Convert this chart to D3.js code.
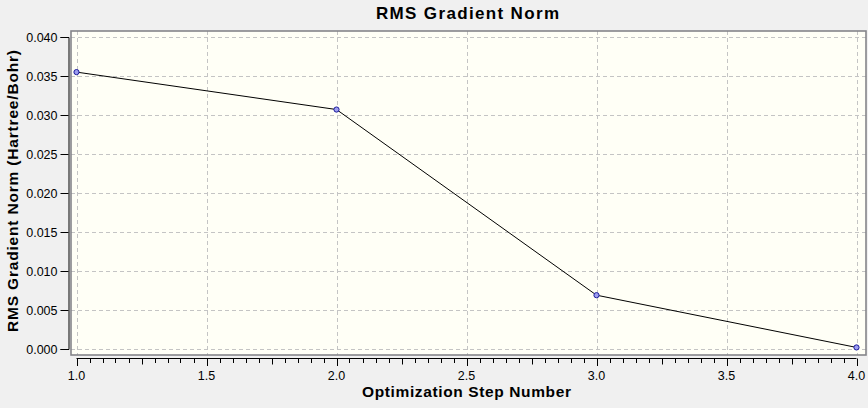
<!DOCTYPE html>
<html>
<head>
<meta charset="utf-8">
<script src="https://cdn.jsdelivr.net/npm/d3@7"></script>
<style>
  html, body { margin: 0; padding: 0; background: #f0f0f0; }
  svg { display: block; font-family: "Liberation Sans", Arial, sans-serif; }
</style>
</head>
<body>
<svg id="chart" width="868" height="408"></svg>
<script>
// data
const steps = [1, 2, 3, 4];
const rmsGrad = [0.0355, 0.0307, 0.0069, 0.0002];
const xTicks = [1.0, 1.5, 2.0, 2.5, 3.0, 3.5, 4.0];
const yTicks = [0.000, 0.005, 0.010, 0.015, 0.020, 0.025, 0.030, 0.035, 0.040];

const svg = d3.select('#chart');

// frame of the plot area
const frame = { left: 71, top: 31, right: 866, bottom: 355 };

const x = d3.scaleLinear().domain([1, 4]).range([76.5, 856.5]);
const y = d3.scaleLinear().domain([0, 0.04]).range([349, 37]);

// plot background
svg.append('rect')
    .attr('x', frame.left).attr('y', frame.top)
    .attr('width', frame.right - frame.left)
    .attr('height', frame.bottom - frame.top)
    .attr('fill', '#fffff6');

// grid
const grid = svg.append('g').attr('stroke', '#c4c4c4').attr('stroke-dasharray', '4,3');
grid.selectAll('.vgrid').data(xTicks).enter()
    .append('line')
    .attr('x1', d => Math.round(x(d)) + 0.5).attr('x2', d => Math.round(x(d)) + 0.5)
    .attr('y1', frame.top).attr('y2', frame.bottom);
grid.selectAll('.hgrid').data(yTicks).enter()
    .append('line')
    .attr('x1', frame.left).attr('x2', frame.right)
    .attr('y1', d => Math.round(y(d)) + 0.5).attr('y2', d => Math.round(y(d)) + 0.5);

// frame border
svg.append('rect')
    .attr('x', frame.left).attr('y', frame.top)
    .attr('width', frame.right - frame.left)
    .attr('height', frame.bottom - frame.top)
    .attr('fill', 'none')
    .attr('stroke', '#85858a')
    .attr('stroke-width', 1.6);

// y axis (detached, left of frame)
const yAxis = d3.axisLeft(y).tickValues(yTicks).tickFormat(d3.format('.3f')).tickSize(8).tickPadding(3);
const gy = svg.append('g').attr('transform', 'translate(68.5,0)').call(yAxis);

// x axis below frame: minor ticks every 0.05, mid every 0.25, major every 0.5
const minorTicks = d3.range(0, 61).map(i => 1 + i * 0.05);
const gx = svg.append('g').attr('transform', 'translate(0,358.5)');
gx.append('line')
    .attr('x1', x(1)).attr('x2', x(4))
    .attr('stroke', '#000');
gx.selectAll('.tick-minor').data(minorTicks).enter()
    .append('line')
    .attr('x1', d => Math.round(x(d)) + 0.5).attr('x2', d => Math.round(x(d)) + 0.5)
    .attr('y1', 0)
    .attr('y2', (d, i) => i % 10 === 0 ? 7.5 : (i % 5 === 0 ? 6 : 4.5))
    .attr('stroke', '#000');
gx.selectAll('.tick-label').data(xTicks).enter()
    .append('text')
    .attr('x', d => x(d))
    .attr('y', 21)
    .attr('text-anchor', 'middle')
    .attr('font-size', 12.5)
    .attr('fill', '#000')
    .text(d3.format('.1f'));

gy.selectAll('text').attr('font-size', 12.5).attr('fill', '#000').attr('font-family', '"Liberation Sans", Arial, sans-serif');
gy.select('.domain').attr('stroke', '#000');
gy.selectAll('.tick line').attr('stroke', '#000');

// data line and markers
const line = d3.line().x((d, i) => x(steps[i])).y(d => y(d));
svg.append('path')
    .datum(rmsGrad)
    .attr('d', line)
    .attr('fill', 'none')
    .attr('stroke', '#000')
    .attr('stroke-width', 1);

svg.selectAll('.pt').data(rmsGrad).enter()
    .append('circle')
    .attr('cx', (d, i) => x(steps[i]))
    .attr('cy', d => y(d))
    .attr('r', 2.6)
    .attr('fill', '#9d9df0')
    .attr('stroke', '#1c1c9c')
    .attr('stroke-width', 1);

// titles
svg.append('text')
    .attr('x', 467.5).attr('y', 18.5)
    .attr('text-anchor', 'middle')
    .attr('font-size', 17).attr('font-weight', 'bold')
    .attr('textLength', 183).attr('lengthAdjust', 'spacing')
    .text('RMS Gradient Norm');

svg.append('text')
    .attr('x', 466.5).attr('y', 397)
    .attr('text-anchor', 'middle')
    .attr('font-size', 15.5).attr('font-weight', 'bold')
    .attr('textLength', 209).attr('lengthAdjust', 'spacing')
    .text('Optimization Step Number');

svg.append('text')
    .attr('transform', 'translate(18,191) rotate(-90)')
    .attr('text-anchor', 'middle')
    .attr('font-size', 15.5).attr('font-weight', 'bold')
    .attr('textLength', 282).attr('lengthAdjust', 'spacing')
    .text('RMS Gradient Norm (Hartree/Bohr)');
</script>
</body>
</html>
